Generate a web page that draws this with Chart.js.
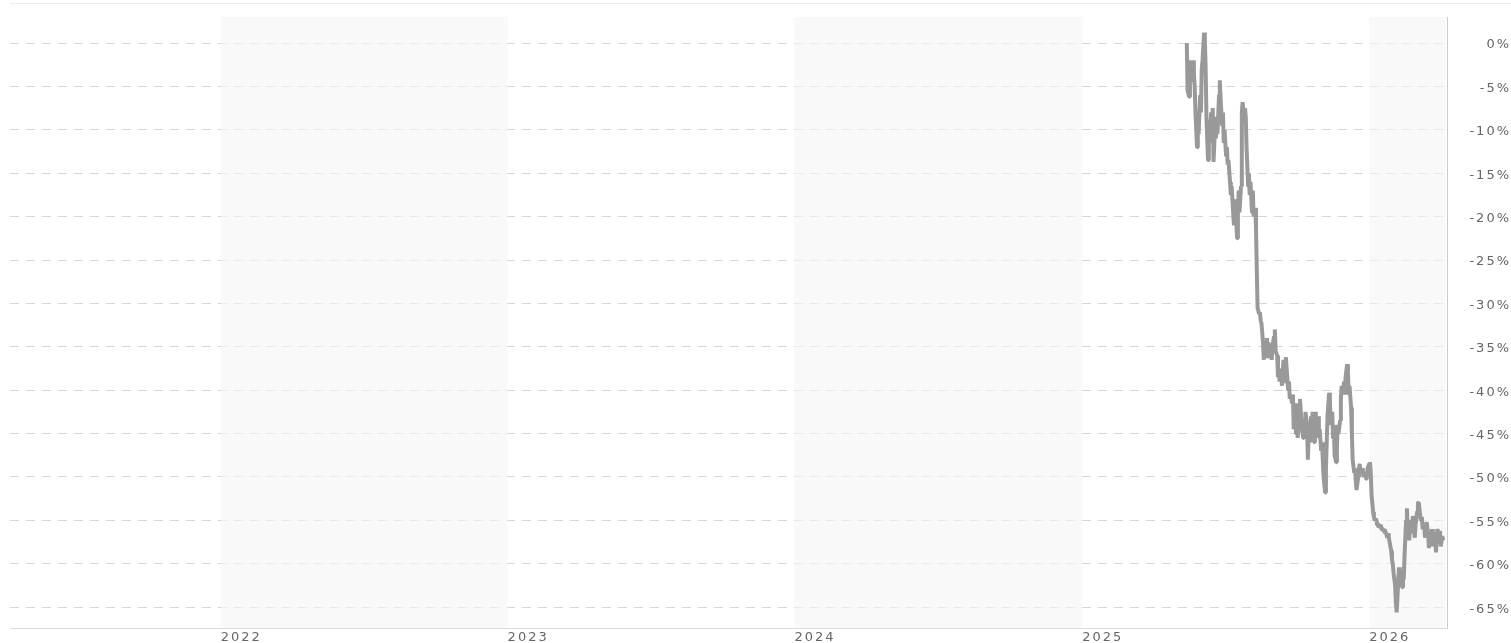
<!DOCTYPE html>
<html>
<head>
<meta charset="utf-8">
<script src="https://cdn.jsdelivr.net/npm/chart.js@4"></script>
<style>
  html, body { margin: 0; padding: 0; background: #fff; }
  canvas { display: block; }
</style>
</head>
<body>
<canvas id="drawdown" width="1511" height="643"></canvas>
<script>
// drawdown from the high, in percent
var dates = [
  "2025-05-14","2025-05-15","2025-05-17","2025-05-18","2025-05-19","2025-05-20","2025-05-22","2025-05-23","2025-05-24","2025-05-25","2025-05-27","2025-05-28","2025-05-29","2025-05-31",
  "2025-06-01","2025-06-02","2025-06-03","2025-06-05","2025-06-06","2025-06-07","2025-06-08","2025-06-10","2025-06-11","2025-06-12","2025-06-14","2025-06-15","2025-06-16","2025-06-17","2025-06-19","2025-06-20","2025-06-21","2025-06-22","2025-06-24","2025-06-25","2025-06-26","2025-06-28","2025-06-29","2025-06-30",
  "2025-07-01","2025-07-03","2025-07-04","2025-07-05","2025-07-06","2025-07-08","2025-07-09","2025-07-10","2025-07-12","2025-07-13","2025-07-14","2025-07-15","2025-07-17","2025-07-18","2025-07-19","2025-07-20","2025-07-22","2025-07-23","2025-07-24","2025-07-26","2025-07-27","2025-07-28","2025-07-29","2025-07-31",
  "2025-08-01","2025-08-02","2025-08-03","2025-08-05","2025-08-06","2025-08-07","2025-08-09","2025-08-10","2025-08-11","2025-08-12","2025-08-14","2025-08-15","2025-08-16","2025-08-17","2025-08-19","2025-08-20","2025-08-21","2025-08-23","2025-08-24","2025-08-25","2025-08-26","2025-08-28","2025-08-29","2025-08-30","2025-08-31",
  "2025-09-02","2025-09-03","2025-09-04","2025-09-06","2025-09-07","2025-09-08","2025-09-09","2025-09-11","2025-09-12","2025-09-13","2025-09-14","2025-09-16","2025-09-17","2025-09-18","2025-09-20","2025-09-21","2025-09-22","2025-09-23","2025-09-25","2025-09-26","2025-09-27","2025-09-28","2025-09-30",
  "2025-10-01","2025-10-02","2025-10-04","2025-10-05","2025-10-06","2025-10-07","2025-10-09","2025-10-10","2025-10-11","2025-10-12","2025-10-14","2025-10-15","2025-10-16","2025-10-18","2025-10-19","2025-10-20","2025-10-21","2025-10-23","2025-10-24","2025-10-25","2025-10-26","2025-10-28","2025-10-29","2025-10-30",
  "2025-11-01","2025-11-02","2025-11-03","2025-11-04","2025-11-06","2025-11-07","2025-11-08","2025-11-09","2025-11-11","2025-11-12","2025-11-13","2025-11-15","2025-11-16","2025-11-17","2025-11-18","2025-11-20","2025-11-21","2025-11-22","2025-11-23","2025-11-25","2025-11-26","2025-11-27","2025-11-29","2025-11-30",
  "2025-12-01","2025-12-02","2025-12-04","2025-12-05","2025-12-06","2025-12-07","2025-12-09","2025-12-10","2025-12-11","2025-12-13","2025-12-14","2025-12-15","2025-12-16","2025-12-18","2025-12-19","2025-12-20","2025-12-21","2025-12-23","2025-12-24","2025-12-25","2025-12-27","2025-12-28","2025-12-29","2025-12-30",
  "2026-01-01","2026-01-02","2026-01-03","2026-01-04","2026-01-06","2026-01-07","2026-01-08","2026-01-10","2026-01-11","2026-01-12","2026-01-13","2026-01-15","2026-01-16","2026-01-17","2026-01-18","2026-01-20","2026-01-21","2026-01-22","2026-01-24","2026-01-25","2026-01-26","2026-01-27","2026-01-29","2026-01-30","2026-01-31",
  "2026-02-01","2026-02-03","2026-02-04","2026-02-05","2026-02-07","2026-02-08","2026-02-09","2026-02-10","2026-02-12","2026-02-13","2026-02-14","2026-02-15","2026-02-17","2026-02-18","2026-02-19","2026-02-21","2026-02-22","2026-02-23","2026-02-24","2026-02-26","2026-02-27","2026-02-28",
  "2026-03-01","2026-03-03","2026-03-04","2026-03-05","2026-03-07","2026-03-08","2026-03-09","2026-03-10","2026-03-12","2026-03-13","2026-03-14","2026-03-15","2026-03-17","2026-03-18","2026-03-19","2026-03-21","2026-03-22","2026-03-23","2026-03-24","2026-03-26","2026-03-27","2026-03-28","2026-03-29","2026-03-31",
  "2026-04-01","2026-04-02","2026-04-04","2026-04-05"
];

var drawdown = [
  0.0,-5.5,-6.2,-3.0,-2.0,-4.5,-2.0,-3.5,-5.0,-8.0,-12.0,-9.0,-10.5,-6.0,
  -8.0,-3.0,-2.0,1.2,0.3,-3.0,-8.5,-13.5,-9.0,-11.5,-8.0,-10.0,-7.5,-13.7,-9.5,-11.0,-8.5,-10.5,-6.0,-4.3,-6.5,-9.5,-8.0,-11.5,
  -10.0,-13.0,-12.0,-14.0,-13.5,-16.0,-17.5,-16.5,-19.5,-21.0,-18.0,-19.0,-22.5,-19.5,-17.0,-19.5,-16.5,-8.0,-6.8,-9.0,-7.5,-8.5,-12.0,-16.5,
  -15.0,-17.5,-16.0,-19.5,-17.0,-20.0,-19.0,-21.0,-26.0,-30.5,-31.2,-31.0,-32.0,-32.3,-34.5,-36.5,-34.5,-35.5,-34.0,-36.3,-34.5,-36.0,-35.5,-36.5,-35.0,
  -33.8,-33.0,-35.5,-36.0,-38.5,-37.5,-39.0,-37.5,-39.5,-38.0,-36.5,-39.0,-36.2,-37.5,-40.0,-39.0,-41.0,-40.5,-41.5,-40.5,-44.5,-42.0,-45.0,
  -41.5,-45.5,-43.0,-41.0,-42.5,-44.0,-45.5,-44.0,-45.5,-42.5,-44.0,-48.0,-45.0,-46.0,-43.0,-44.5,-42.5,-46.0,-44.5,-42.5,-45.0,-43.0,-45.5,-44.5,
  -47.0,-46.0,-48.0,-50.0,-51.8,-49.0,-46.0,-43.0,-40.3,-41.0,-44.0,-42.5,-45.5,-44.0,-47.5,-48.3,-46.5,-44.0,-45.0,-43.5,-41.0,-39.5,-40.5,-39.0,
  -40.5,-38.5,-37.0,-38.0,-40.5,-39.5,-42.0,-45.0,-48.0,-49.5,-49.0,-50.5,-51.5,-50.0,-49.0,-48.5,-49.5,-49.0,-49.5,-50.0,-49.5,-50.2,-49.8,-49.0,
  -48.5,-48.3,-49.5,-52.0,-54.0,-54.6,-55.0,-54.8,-55.5,-55.3,-55.8,-55.5,-56.0,-55.8,-56.2,-56.0,-56.5,-56.3,-57.0,-56.5,-57.0,-57.5,-58.5,-59.5,-60.0,
  -61.0,-62.5,-64.5,-65.6,-62.0,-60.4,-62.0,-60.8,-62.7,-61.0,-61.8,-59.0,-55.0,-53.6,-56.0,-57.3,-55.0,-56.5,-55.5,-54.5,-56.0,-57.0,
  -55.5,-54.0,-53.0,-52.9,-54.5,-55.0,-54.6,-56.0,-55.5,-57.0,-56.0,-55.2,-56.5,-58.2,-56.5,-57.5,-56.0,-58.0,-56.5,-57.0,-58.7,-56.5,-56.0,-57.5,
  -56.2,-58.0,-56.8,-57.3
];

var yearTicks = ["2022-01-01", "2023-01-01", "2024-01-01", "2025-01-01", "2026-01-01"];
var shadedYears = [2022, 2024, 2026];
var percentTicks = [0, -5, -10, -15, -20, -25, -30, -35, -40, -45, -50, -55, -60, -65];
var axisStart = "2021-04-08";
var axisEnd = "2026-04-10";

function ts(d) {
  return Date.parse(d + "T00:00:00Z");
}

var points = dates.map(function (d, i) {
  return { x: ts(d), y: drawdown[i] };
});

// canvas loses letterSpacing whenever it is resized, so set it again
var spacedText = {
  id: "spacedText",
  beforeLayout: function (chart) { chart.ctx.letterSpacing = "2px"; },
  beforeDraw: function (chart) { chart.ctx.letterSpacing = "2px"; }
};

// light bands on every other year + thin rule at the very top
var yearBands = {
  id: "yearBands",
  beforeDatasetsDraw: function (chart) {
    var ctx = chart.ctx;
    var area = chart.chartArea;
    var xs = chart.scales.x;
    ctx.save();
    ctx.fillStyle = "rgba(245, 245, 245, 0.6)";
    shadedYears.forEach(function (y) {
      var a = Math.max(xs.getPixelForValue(ts(y + "-01-01")), area.left);
      var b = Math.min(xs.getPixelForValue(ts((y + 1) + "-01-01")), area.right - 1);
      if (b > a) ctx.fillRect(a, area.top, b - a, area.bottom - area.top);
    });
    ctx.fillStyle = "#ececec";
    ctx.fillRect(area.left, 3, chart.width - area.left, 1);
    ctx.restore();
  }
};

var tickFont = { family: "'DejaVu Sans', Verdana, sans-serif", size: 13 };

var chart = new Chart(document.getElementById("drawdown"), {
  type: "line",
  data: {
    datasets: [
      {
        data: points,
        borderColor: "#999999",
        borderWidth: 4,
        borderJoinStyle: "bevel",
        pointRadius: 0,
        tension: 0,
        fill: false,
      },
    ],
  },
  options: {
    responsive: false,
    animation: false,
    layout: { padding: { left: 10, top: 17, right: 0, bottom: 0 } },
    plugins: {
      legend: { display: false },
      tooltip: { enabled: false },
    },
    scales: {
      x: {
        type: "linear",
        min: ts(axisStart),
        max: ts(axisEnd),
        afterBuildTicks: function (scale) {
          scale.ticks = yearTicks.map(function (d) { return { value: ts(d) }; });
        },
        afterFit: function (scale) {
          scale.height = 15;
          scale.paddingLeft = 0;
          scale.paddingRight = 0;
        },
        grid: { display: false, drawTicks: false },
        border: { display: true, color: "#dddddd", width: 1 },
        ticks: {
          align: "start",
          padding: 2,
          color: "#666666",
          font: tickFont,
          autoSkip: false,
          maxRotation: 0,
          callback: function (v) { return new Date(v).getUTCFullYear(); },
        },
      },
      y: {
        position: "right",
        min: -67.4,
        max: 3,
        afterBuildTicks: function (scale) {
          scale.ticks = percentTicks.map(function (v) { return { value: v }; });
        },
        afterFit: function (scale) {
          scale.width = 64;
          scale.paddingTop = 0;
          scale.paddingBottom = 0;
        },
        grid: { color: "#d6d6d6", lineWidth: 1, drawTicks: false },
        border: { display: true, color: "#cccccc", width: 1, dash: [9, 7] },
        ticks: {
          crossAlign: "far",
          padding: 16,
          labelOffset: 2,
          color: "#666666",
          font: tickFont,
          callback: function (v) { return v + "%"; },
        },
      },
    },
  },
  plugins: [spacedText, yearBands],
});
</script>
</body>
</html>
